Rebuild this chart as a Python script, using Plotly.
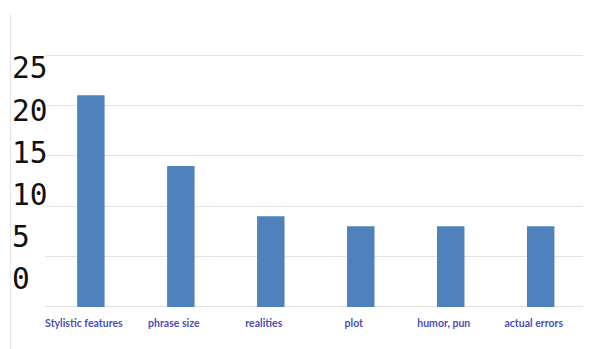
import plotly.graph_objects as go

categories = ["Stylistic features", "phrase size", "realities", "plot", "humor, pun", "actual errors"]
values = [21, 14, 9, 8, 8, 8]
y_ticks = [0, 5, 10, 15, 20, 25]

fig = go.Figure()
fig.add_trace(go.Bar(
    x=categories, y=values, width=0.305,
    marker=dict(color="#4F81BD", line=dict(width=0)),
    xaxis="x", yaxis="y", showlegend=False,
))
# invisible trace for the secondary (label) axis
fig.add_trace(go.Scatter(x=[categories[0]], y=[0], yaxis="y2", xaxis="x",
                         mode="markers", marker=dict(opacity=0), showlegend=False,
                         hoverinfo="skip"))

L, R, T, B = 8, 7, 53, 40
H = 349 - T - B
fig.update_layout(
    width=590, height=349,
    margin=dict(l=L, r=R, t=T, b=B),
    paper_bgcolor="white", plot_bgcolor="white",
    xaxis=dict(
        domain=[(45 - L) / (590 - L - R), 1],
        type="category", range=[-0.51, 5.47],
        showgrid=False, zeroline=False, showline=False,
        ticks="", ticklabelstandoff=6, ticklabelshift=-7,
        tickfont=dict(family="Lato", size=10.5, color="#4B4FB5", weight="bold"),
    ),
    yaxis=dict(
        range=[-0.2, 25.2], tickvals=y_ticks, showticklabels=False,
        showgrid=True, gridcolor="#E3E3E3", gridwidth=1.2, zeroline=False,
        anchor="x",
    ),
    yaxis2=dict(
        overlaying="y", anchor="free", position=0, side="left",
        range=[-3.55, 26.78], tickvals=y_ticks, ticktext=[str(v) for v in y_ticks],
        showgrid=False, zeroline=False, showline=False, ticks="",
        ticklabelposition="inside", ticklabeloverflow="allow",
        tickfont=dict(family="DejaVu Sans Mono", size=29.5, color="#111111"),
    ),
    shapes=[dict(type="line", xref="paper", yref="paper",
                 x0=(10.5 - L) / (590 - L - R), x1=(10.5 - L) / (590 - L - R),
                 y0=-B / H, y1=(349 - B - 14) / H,
                 line=dict(color="#E6E6E6", width=1))],
)

fig.write_html("out.html")
